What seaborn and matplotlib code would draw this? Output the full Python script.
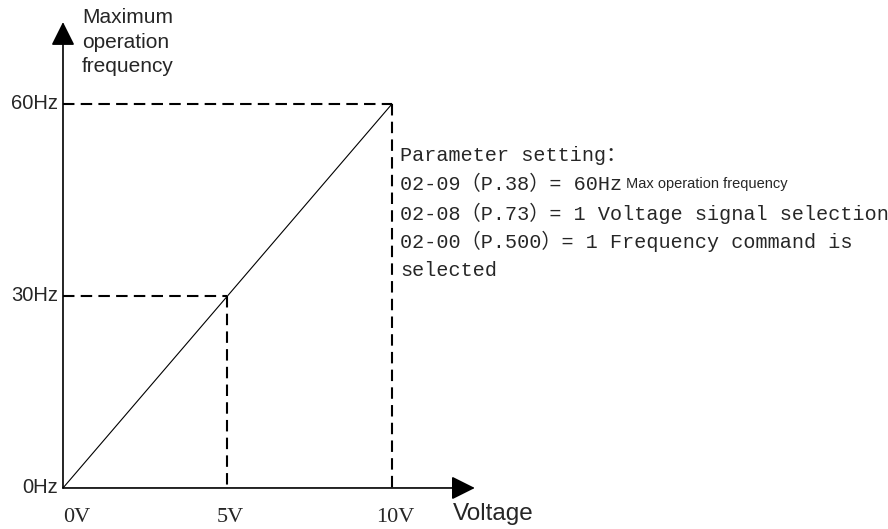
import matplotlib
matplotlib.use("Agg")
import matplotlib.pyplot as plt
import seaborn as sns

# Analog input: voltage -> output frequency
volts = [0, 10]
freqs = [0, 60]

# Guide points shown with dashed lines
ref_volts = [5, 10]
ref_freqs = [30, 60]

x_ticks = [0, 5, 10]
x_tick_labels = ["0V", "5V", "10V"]
y_ticks = [0, 30, 60]
y_tick_labels = ["0Hz", "30Hz", "60Hz"]

param_lines = [
    "Parameter setting：",
    "02-09（P.38）= 60Hz",
    "02-08（P.73）= 1 Voltage signal selection",
    "02-00（P.500）= 1 Frequency command is",
    "selected",
]

sns.set_theme(style="white")
plt.rcParams["font.family"] = ["Liberation Sans", "DejaVu Sans"]
mono = ["Liberation Mono", "Noto Sans CJK SC", "DejaVu Sans"]

fig = plt.figure(figsize=(8.88, 5.29), dpi=100)
ax = fig.add_axes([0, 0, 1, 1])
ax.set_xlim(-1.915, 25.08)
ax.set_ylim(-6.41, 76.25)
ax.axis("off")

# ------------------------
# Axes with arrow heads
# ------------------------
arrow = dict(arrowstyle="-|>,head_length=0.5,head_width=0.25", mutation_scale=29,
             lw=1.2, color="black", shrinkA=0, shrinkB=0)
ax.annotate("", xy=(12.52, 0), xytext=(0, 0), arrowprops=arrow)
ax.annotate("", xy=(0, 72.8), xytext=(0, 0), arrowprops=arrow)

# ------------------------
# Main line + dashed guides
# ------------------------
sns.lineplot(x=volts, y=freqs, ax=ax, color="black", linewidth=0.8)
for v, f in zip(ref_volts, ref_freqs):
    ax.plot([0, v], [f, f], color="black", lw=1.5, dashes=(5.5, 3))
    ax.plot([v, v], [f, 0], color="black", lw=1.5, dashes=(5.5, 3))

# ------------------------
# Tick labels
# ------------------------
for y, lab in zip(y_ticks, y_tick_labels):
    ax.text(-0.15, y, lab, ha="right", va="center", fontsize=14.5)
for i, (x, lab) in enumerate(zip(x_ticks, x_tick_labels)):
    ha = "left" if i == 0 else "center"
    ax.text(x + (0 if i == 0 else 0.1), -4.69, lab, ha=ha, va="center",
            fontsize=16, family=["Liberation Serif", "DejaVu Serif"])

ax.text(0.58, 75.0, "Maximum\noperation\nfrequency", ha="left", va="top",
        fontsize=15, linespacing=1.38)
ax.text(11.85, -4.06, "Voltage", ha="left", va="center", fontsize=17.5)

# ------------------------
# Parameter notes
# ------------------------
y0, step = 51.9, 4.47
texts = []
for i, line in enumerate(param_lines):
    t = ax.text(10.24, y0 - i * step, line, ha="left", va="center",
                fontsize=14.5, family=mono)
    texts.append(t)
ax.annotate("Max operation frequency", xy=(1, 0.5), xycoords=texts[1],
            xytext=(3, 0), textcoords="offset points", ha="left", va="center",
            fontsize=10.5)

fig.savefig("out.png", dpi=100)
